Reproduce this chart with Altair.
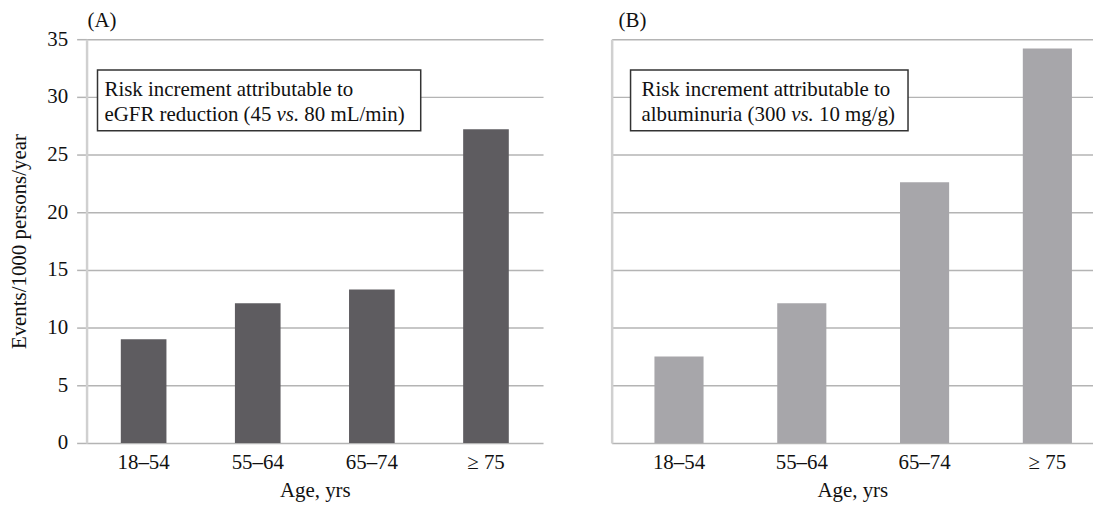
import altair as alt
import pandas as pd

# ---- data ----
ages = ["18–54", "55–64", "65–74", "≥ 75"]
egfr_risk = [9.0, 12.1, 13.3, 27.2]
albu_risk = [7.5, 12.1, 22.6, 34.2]
y_ticks = [0, 5, 10, 15, 20, 25, 30, 35]

FONT = "Liberation Serif"
GRID = "#b4b4b4"
DOMAIN = "#d0d0d0"
DARK = "#5e5c60"
LIGHT = "#a7a6aa"
FS = 21

df_a = pd.DataFrame({"age": ages, "value": egfr_risk})
df_b = pd.DataFrame({"age": ages, "value": albu_risk})


def x_enc(scale):
    return alt.X(
        "age:N",
        sort=ages,
        scale=scale,
        axis=alt.Axis(
            title="Age, yrs",
            ticks=False,
            domain=False,
            labelAngle=0,
            labelPadding=9,
            titlePadding=7,
        ),
    )


def y_enc(axis):
    return alt.Y("value:Q", scale=alt.Scale(domain=[0, 35], nice=False), axis=axis)


def txt(text, x, y, italic=False, baseline="alphabetic"):
    return alt.Chart(pd.DataFrame({"k": [0]})).mark_text(
        text=text,
        align="left",
        baseline=baseline,
        font=FONT,
        fontSize=FS,
        fontStyle="italic" if italic else "normal",
        color="#111111",
    ).encode(x=alt.value(x), y=alt.value(y))


def box(x1, x2, y1, y2):
    return alt.Chart(pd.DataFrame({"k": [0]})).mark_rect(
        fill="white", stroke="#333333", strokeWidth=1.5
    ).encode(x=alt.value(x1), x2=alt.value(x2), y=alt.value(y1), y2=alt.value(y2))


# ---- panel A ----
axis_a = alt.Axis(
    values=y_ticks,
    title="Events/1000 persons/year",
    tickSize=10,
    tickColor=GRID,
    tickWidth=1.5,
    labelPadding=9,
    titlePadding=17,
    domainColor=DOMAIN,
    domainWidth=2.5,
    gridColor=GRID,
    gridWidth=1.5,
)
bars_a = alt.Chart(df_a).mark_bar(color=DARK).encode(
    x=x_enc(alt.Scale(paddingInner=0.6, paddingOuter=0.3)),
    y=y_enc(axis_a),
)
panel_a = alt.layer(
    bars_a,
    txt("(A)", 1, -18, baseline="middle"),
    box(11, 336, 31, 92),
    txt("Risk increment attributable to", 18, 57),
    txt("eGFR reduction (45", 18, 82),
    txt("vs.", 191, 82, italic=True),
    txt("80 mL/min)", 219, 82),
).properties(width=459, height=406)

# ---- panel B ----
axis_b = alt.Axis(
    values=y_ticks,
    title=None,
    labels=False,
    ticks=False,
    domainColor=DOMAIN,
    domainWidth=2.5,
    gridColor=GRID,
    gridWidth=1.5,
)
bars_b = alt.Chart(df_b).mark_bar(color=LIGHT).encode(
    x=x_enc(alt.Scale(paddingInner=0.6, paddingOuter=0.26, align=0.67)),
    y=y_enc(axis_b),
)
panel_b = alt.layer(
    bars_b,
    txt("(B)", 7, -18, baseline="middle"),
    box(19, 298, 31, 92),
    txt("Risk increment attributable to", 30, 57),
    txt("albuminuria (300", 30, 82),
    txt("vs.", 180.5, 82, italic=True),
    txt("10 mg/g)", 208.5, 82),
).properties(width=484, height=406)

chart = (
    alt.hconcat(panel_a, panel_b, spacing=69)
    .properties(padding={"left": 1, "top": 1, "right": 0, "bottom": 0})
    .configure(font=FONT)
    .configure_view(stroke=None)
    .configure_axis(
        labelFont=FONT,
        titleFont=FONT,
        labelFontSize=FS,
        titleFontSize=FS,
        labelColor="#111111",
        titleColor="#111111",
        titleFontWeight="normal",
    )
)

chart.save("out.html", embed_options={"renderer": "svg", "actions": False})
